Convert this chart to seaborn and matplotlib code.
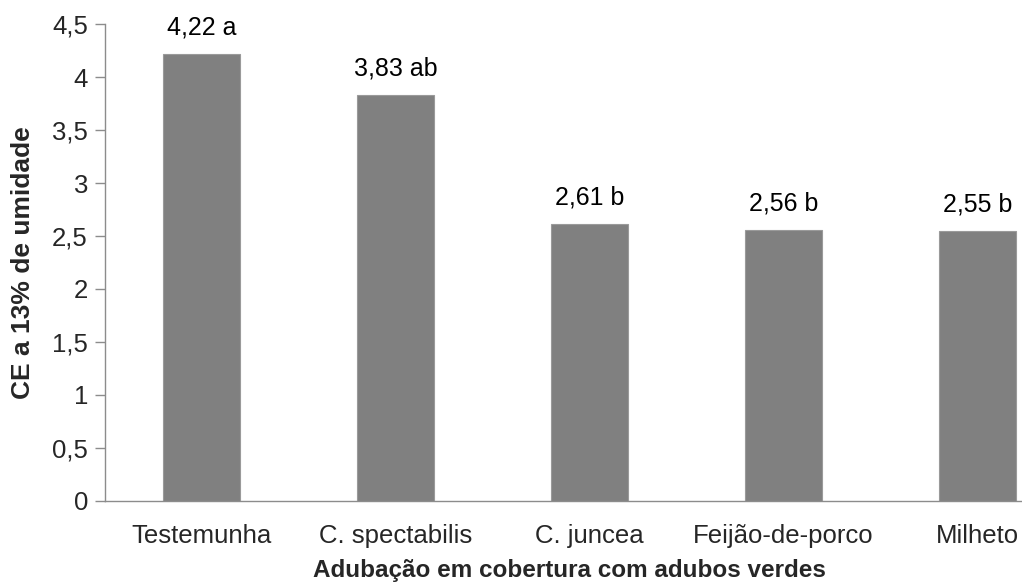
import matplotlib
matplotlib.use("Agg")
import matplotlib.pyplot as plt
import seaborn as sns
import pandas as pd
from matplotlib.ticker import FuncFormatter, FixedLocator

# Dados: condutividade elétrica por tratamento de adubação verde
tratamentos = ["Testemunha", "C. spectabilis", "C. juncea", "Feijão-de-porco", "Milheto"]
ce_valores = [4.22, 3.83, 2.61, 2.56, 2.55]
letras = ["a", "ab", "b", "b", "b"]
y_ticks = [0, 0.5, 1, 1.5, 2, 2.5, 3, 3.5, 4, 4.5]

sns.set_style("white")
plt.rcParams["font.family"] = ["Liberation Sans", "DejaVu Sans"]

df = pd.DataFrame({"tratamento": tratamentos, "ce": ce_valores})

fig = plt.figure(figsize=(10.22, 5.83), dpi=100)
ax = fig.add_axes([0.1024, 0.1412, 0.949, 0.8171])

sns.barplot(data=df, x="tratamento", y="ce", color="#808080", saturation=1,
            width=0.40, edgecolor="#9a9a9a", linewidth=0.8, ax=ax)

ax.set_xlim(-0.5, len(tratamentos) - 0.5)
ax.set_ylim(0, 4.5)
ax.yaxis.set_major_locator(FixedLocator(y_ticks))
ax.yaxis.set_major_formatter(FuncFormatter(lambda v, p: f"{v:g}".replace(".", ",")))

# Rótulos de valor com letras de comparação de médias
for i, (v, l) in enumerate(zip(ce_valores, letras)):
    ax.annotate(f"{v:.2f}".replace(".", ",") + f" {l}", xy=(i, v),
                xytext=(0, 14), textcoords="offset points",
                ha="center", va="baseline", fontsize=18, color="black")

for s in ["top", "right"]:
    ax.spines[s].set_visible(False)
for s in ["left", "bottom"]:
    ax.spines[s].set_color("#8c8c8c")
    ax.spines[s].set_linewidth(1.0)

ax.set_xticks(range(len(tratamentos)))
ax.set_xticks([i - 0.5 for i in range(len(tratamentos) + 1)], minor=True)
ax.tick_params(axis="x", which="major", length=0, pad=17, labelsize=18.5)
ax.tick_params(axis="x", which="minor", length=6, width=1.0, color="#8c8c8c", direction="out")
ax.tick_params(axis="y", which="major", length=7, width=1.0, color="#8c8c8c",
               direction="out", pad=5, labelsize=18.5, left=True)

ax.set_xlabel("Adubação em cobertura com adubos verdes", fontsize=17.5, fontweight="bold")
ax.set_ylabel("CE a 13% de umidade", fontsize=19, fontweight="bold")
ax.xaxis.set_label_coords(0.479, -0.122)
ax.yaxis.set_label_coords(-0.072, 0.5)

fig.savefig("out.png", dpi=100, facecolor="white")
